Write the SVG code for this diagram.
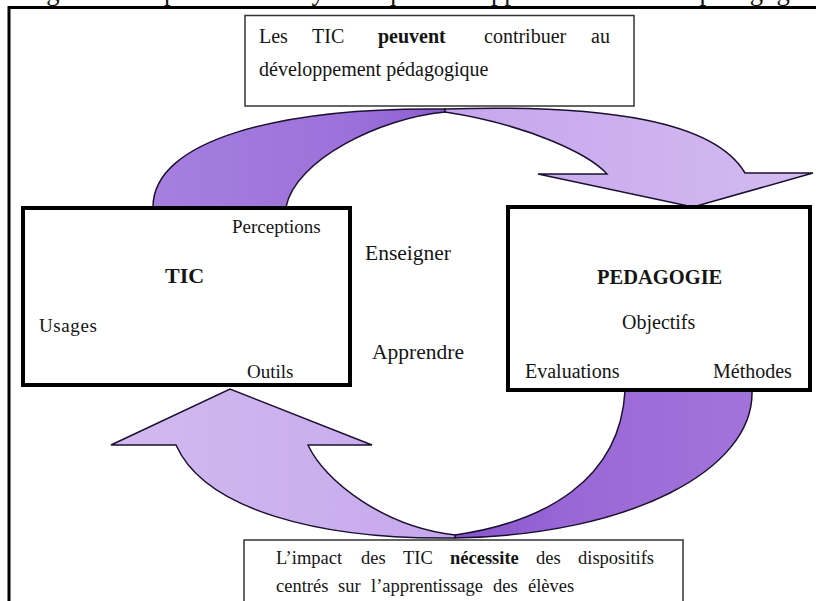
<svg xmlns="http://www.w3.org/2000/svg" width="816" height="601" viewBox="0 0 816 601">
<style>
.t{font-family:"Liberation Serif","Times New Roman",serif;fill:#151515;}
.b{font-weight:bold;}
.frame{fill:none;stroke:#000;stroke-width:3;}
.box{fill:#fff;stroke:#000;stroke-width:4;}
.note{fill:#fff;stroke:#333;stroke-width:1.5;}
.arr{stroke:#1c1030;stroke-width:1.5;stroke-linejoin:miter;}
</style>
<defs>
<linearGradient id="gDarkTop" x1="0" y1="0" x2="1" y2="0">
<stop offset="0" stop-color="#a67fdf"/>
<stop offset="0.7" stop-color="#9c70da"/>
<stop offset="1" stop-color="#8a5ccf"/>
</linearGradient>
<linearGradient id="gLightTop" x1="0" y1="0" x2="1" y2="0">
<stop offset="0" stop-color="#c6a6ec"/>
<stop offset="1" stop-color="#d3bbf1"/>
</linearGradient>
<linearGradient id="gDarkBot" x1="1" y1="0" x2="0" y2="0">
<stop offset="0" stop-color="#a274da"/>
<stop offset="0.6" stop-color="#9a68d6"/>
<stop offset="1" stop-color="#8655cc"/>
</linearGradient>
<linearGradient id="gLightBot" x1="1" y1="0" x2="0" y2="0">
<stop offset="0" stop-color="#c6a8ec"/>
<stop offset="1" stop-color="#d2baf0"/>
</linearGradient>
</defs>
<rect width="816" height="601" fill="#fff"/>
<text class="t" x="24" y="0" font-size="26.7">Figure 1 : Représentation systémique des rapports entre TIC et pédagogie</text>
<path class="frame" d="M9,601 V7.5 H816"/>
<g id="connectors">
<g id="arrow-tic-to-pedagogie">
<path class="arr" fill="url(#gDarkTop)" d="M153,207 C153,140 280,107 445,109 L445,112 C380,118 295,160 286,207 Z"/>
<path class="arr" fill="url(#gLightTop)" d="M445,109 C610,104 715,122 745,173 L813,173 L693,207 L538,174 L607,174 C590,155 530,125 445,112 Z"/>
</g>
<g id="arrow-pedagogie-to-tic">
<path class="arr" fill="url(#gDarkBot)" d="M752,391 C754,470 630,535 455,538 L455,535 C545,522 620,480 625,391 Z"/>
<path class="arr" fill="url(#gLightBot)" d="M455,538 C320,540 205,510 176,445 L111,445 L230,389 L372,445 L308,445 C325,482 385,527 455,535 Z"/>
</g>
</g>
<g id="node-top-note">
<rect class="note" x="245" y="15.5" width="389" height="90.5"/>
<text class="t" font-size="20" y="43"><tspan x="259">Les</tspan><tspan x="312">TIC</tspan><tspan x="378" font-weight="bold">peuvent</tspan><tspan x="484">contribuer</tspan><tspan x="591">au</tspan></text>
<text class="t" font-size="20" x="259" y="76">développement pédagogique</text>
</g>
<g id="node-tic">
<rect class="box" x="23" y="208" width="327" height="177"/>
<text class="t" font-size="19" x="232" y="233">Perceptions</text>
<text class="t b" font-size="22" x="165" y="283">TIC</text>
<text class="t" font-size="19" x="39" y="332" letter-spacing="0.6">Usages</text>
<text class="t" font-size="19" x="247" y="378">Outils</text>
</g>
<g id="node-pedagogie">
<rect class="box" x="508" y="207" width="302" height="183"/>
<text class="t b" font-size="20.5" x="597" y="284">PEDAGOGIE</text>
<text class="t" font-size="20" x="622" y="329">Objectifs</text>
<text class="t" font-size="20" x="525" y="378">Evaluations</text>
<text class="t" font-size="20" x="713" y="378">Méthodes</text>
</g>
<g id="label-enseigner">
<text class="t" font-size="21.5" x="365" y="260">Enseigner</text>
</g>
<g id="label-apprendre">
<text class="t" font-size="21.5" x="372" y="359">Apprendre</text>
</g>
<g id="node-bottom-note">
<rect class="note" x="244" y="540" width="439" height="80"/>
<text class="t" font-size="18.5" y="564"><tspan x="276">L’impact</tspan><tspan x="361">des</tspan><tspan x="403">TIC</tspan><tspan x="450" font-weight="bold">nécessite</tspan><tspan x="536">des</tspan><tspan x="578">dispositifs</tspan></text>
<text class="t" font-size="18.5" y="592"><tspan x="276">centrés</tspan><tspan x="338">sur</tspan><tspan x="371">l’apprentissage</tspan><tspan x="493">des</tspan><tspan x="528">élèves</tspan></text>
</g>
</svg>
